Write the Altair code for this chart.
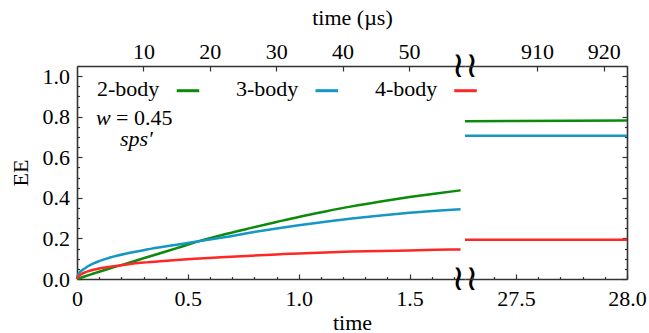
import altair as alt
import pandas as pd

# ---------------- data ----------------
series = ["2-body", "3-body", "4-body"]
colors = ["#0b8a0b", "#1597c5", "#ff2626"]

t_left = [0, 0.005, 0.01, 0.02, 0.035, 0.05, 0.075, 0.1, 0.15, 0.225, 0.3, 0.375,
          0.45, 0.555, 0.65, 0.786, 0.9, 1.0, 1.12, 1.24, 1.37, 1.5, 1.62, 1.73]
ee_2body = [0, 0.0018, 0.0036, 0.0072, 0.0125, 0.018, 0.027, 0.036, 0.053, 0.077, 0.102, 0.127,
            0.152, 0.188, 0.216, 0.252, 0.281, 0.306, 0.333, 0.358, 0.382, 0.404, 0.422, 0.437]
ee_3body = [0, 0.022, 0.03, 0.041, 0.052, 0.063, 0.077, 0.088, 0.106, 0.126, 0.142, 0.156,
            0.169, 0.187, 0.203, 0.229, 0.249, 0.265, 0.282, 0.298, 0.313, 0.326, 0.336, 0.344]
ee_4body = [0, 0.012, 0.017, 0.024, 0.032, 0.038, 0.046, 0.052, 0.061, 0.072, 0.081, 0.088,
            0.094, 0.101, 0.107, 0.115, 0.121, 0.126, 0.131, 0.135, 0.138, 0.141, 0.144, 0.146]

t_right = [27.27, 27.5, 27.75, 28.0]
ee_2body_right = [0.778, 0.779, 0.780, 0.781]
ee_3body_right = [0.706, 0.706, 0.706, 0.706]
ee_4body_right = [0.193, 0.193, 0.193, 0.193]

left_domain = [0, 1.75]
right_domain = [27.27, 28.0]
us_left_domain = [0, 58.45]
us_right_domain = [899.2, 923.5]
ee_domain = [0, 1.05]

x_left_ticks = [round(0.1 * i, 1) for i in range(18)]
x_right_ticks = [27.3, 27.4, 27.5, 27.6, 27.7, 27.8, 27.9, 28.0]
us_left_ticks = [10, 20, 30, 40, 50]
us_right_ticks = [910, 920]
y_ticks = [round(0.05 * i, 2) for i in range(22)]

annot_w = ["w"]
annot_eq = ["= 0.45"]
annot_sps = ["sps\u2032"]
break_mark = ["\u2240\u2240"]

# ---------------- tables ----------------
def long_table(t, vals):
    rows = []
    for name, v in zip(series, vals):
        for ti, vi in zip(t, v):
            rows.append({"t": ti, "ee": vi, "series": name})
    return pd.DataFrame(rows)

df_left = long_table(t_left, [ee_2body, ee_3body, ee_4body])
df_right = long_table(t_right, [ee_2body_right, ee_3body_right, ee_4body_right])
df_series = pd.DataFrame({"series": series})

FONT = "Liberation Serif"
FS = 22
W_LEFT = 388
W_RIGHT = 162
H = 213
ML, MT = 77, 66          # margins of the plot area inside the 649x333 canvas
CANVAS_W, CANVAS_H = 649, 333

major_x = "abs(datum.value*2-round(datum.value*2))<1e-6"
major_y = "abs(datum.value*5-round(datum.value*5))<1e-6"

y_scale = alt.Scale(domain=ee_domain, nice=False, zero=False)
color_scale = alt.Scale(domain=series, range=colors)

# ---------- left panel ----------
lines_left = alt.Chart(df_left).mark_line(strokeWidth=2.5, interpolate="monotone").encode(
    x=alt.X("t:Q", scale=alt.Scale(domain=left_domain, nice=False, zero=False),
            axis=alt.Axis(orient="bottom", values=x_left_ticks,
                          labelExpr=f"{major_x} ? (datum.value==0 ? '0' : format(datum.value,'.1f')) : ''",
                          tickSize=alt.ExprRef(f"{major_x} ? -5 : -2.5"),
                          labelBaseline="alphabetic", labelPadding=31,
                          title="time", titleX=275, titleY=50, titleBaseline="alphabetic")),
    y=alt.Y("ee:Q", scale=y_scale,
            axis=alt.Axis(orient="left", values=y_ticks,
                          labelExpr=f"{major_y} ? format(datum.value,'.1f') : ''",
                          tickSize=alt.ExprRef(f"{major_y} ? -5 : -2.5"),
                          labelPadding=12.5, title="EE", titleX=-57, titleY=H / 2,
                          titleAngle=270, titleBaseline="middle")),
    color=alt.Color("series:N", scale=color_scale, legend=None),
    detail="series:N",
)

top_left = alt.Chart(pd.DataFrame({"us": us_left_domain})).mark_point(opacity=0).encode(
    x=alt.X("us:Q", scale=alt.Scale(domain=us_left_domain, nice=False, zero=False),
            axis=alt.Axis(orient="top", values=us_left_ticks, format="d",
                          tickSize=alt.ExprRef("-5"), labelBaseline="alphabetic", labelPadding=12.5,
                          title="time (\u00b5s)", titleX=275, titleY=-42,
                          titleBaseline="alphabetic")),
    y=alt.value(0),
)

# in-plot legend: label first, line sample after it
leg_text = alt.Chart(df_series).mark_text(
    font=FONT, fontSize=FS, align="left", baseline="alphabetic", color="black"
).encode(
    x=alt.X("series:N", scale=alt.Scale(domain=series, range=[20, 298], padding=0), axis=None),
    y=alt.value(29.5),
    text="series:N",
)
leg_sym = alt.Chart(df_series).mark_point(
    shape="stroke", size=506, strokeWidth=3, filled=False, opacity=1
).encode(
    x=alt.X("series:N", scale=alt.Scale(domain=series, range=[111, 388.5], padding=0), axis=None),
    y=alt.value(24.7),
    color=alt.Color("series:N", scale=color_scale, legend=None),
)

txt_w = alt.Chart(pd.DataFrame({"s": annot_w})).mark_text(
    font=FONT, fontSize=FS, fontStyle="italic", align="left", baseline="alphabetic", color="black"
).encode(x=alt.value(19), y=alt.value(59), text="s:N")
txt_eq = alt.Chart(pd.DataFrame({"s": annot_eq})).mark_text(
    font=FONT, fontSize=FS, align="left", baseline="alphabetic", color="black"
).encode(x=alt.value(39), y=alt.value(59), text="s:N")
txt_sps = alt.Chart(pd.DataFrame({"s": annot_sps})).mark_text(
    font=FONT, fontSize=FS, fontStyle="italic", align="left", baseline="alphabetic", color="black"
).encode(x=alt.value(43), y=alt.value(80), text="s:N")

brk = alt.Chart(pd.DataFrame({"s": break_mark * 2, "pos": ["top", "bottom"]})).mark_text(
    font="DejaVu Sans", fontSize=36, align="center", baseline="middle", color="black"
).encode(
    x=alt.value(W_LEFT),
    y=alt.Y("pos:N", scale=alt.Scale(domain=["top", "bottom"], range=[0, H], padding=0), axis=None),
    text="s:N",
)

# invisible canvas frame so the page is exactly 649x333 with the plot at (ML, MT)
frame = alt.Chart(pd.DataFrame({"k": [0]})).mark_rect(opacity=0).encode(
    x=alt.value(-ML), x2=alt.value(CANVAS_W - ML),
    y=alt.value(-MT), y2=alt.value(CANVAS_H - MT),
)

left = alt.layer(frame, lines_left, top_left, leg_text, leg_sym, txt_w, txt_eq, txt_sps, brk).resolve_scale(
    x="independent", y="independent").resolve_axis(x="independent", y="independent").properties(
    width=W_LEFT, height=H)

# ---------- right panel ----------
lines_right = alt.Chart(df_right).mark_line(strokeWidth=2.5).encode(
    x=alt.X("t:Q", scale=alt.Scale(domain=right_domain, nice=False, zero=False),
            axis=alt.Axis(orient="bottom", values=x_right_ticks,
                          labelExpr=f"{major_x} ? format(datum.value,'.1f') : ''",
                          tickSize=alt.ExprRef(f"{major_x} ? -5 : -2.5"),
                          labelBaseline="alphabetic", labelPadding=31, title=None)),
    y=alt.Y("ee:Q", scale=y_scale,
            axis=alt.Axis(orient="right", values=y_ticks, labels=False,
                          tickSize=alt.ExprRef(f"{major_y} ? -5 : -2.5"), title=None)),
    color=alt.Color("series:N", scale=color_scale, legend=None),
)

top_right = alt.Chart(pd.DataFrame({"us": us_right_domain})).mark_point(opacity=0).encode(
    x=alt.X("us:Q", scale=alt.Scale(domain=us_right_domain, nice=False, zero=False),
            axis=alt.Axis(orient="top", values=us_right_ticks, format="d",
                          tickSize=alt.ExprRef("-5"), labelBaseline="alphabetic", labelPadding=12.5,
                          title=None)),
    y=alt.value(0),
)

right = alt.layer(lines_right, top_right).resolve_scale(x="independent").resolve_axis(
    x="independent").properties(width=W_RIGHT, height=H)

chart = alt.hconcat(left, right, spacing=0, bounds="flush").resolve_scale(
    color="independent"
).configure_view(
    stroke=None
).configure_axis(
    labelFont=FONT, labelFontSize=FS, labelColor="black",
    titleFont=FONT, titleFontSize=FS, titleColor="black", titleFontWeight="normal",
    domainColor="#333333", domainWidth=1.6, tickColor="#333333", tickWidth=1.2,
    grid=False, labelFlush=False, labelOverlap=False,
).properties(
    padding=0,
    background="white",
)

chart.save("out.html", embed_options={"renderer": "svg", "actions": False})
